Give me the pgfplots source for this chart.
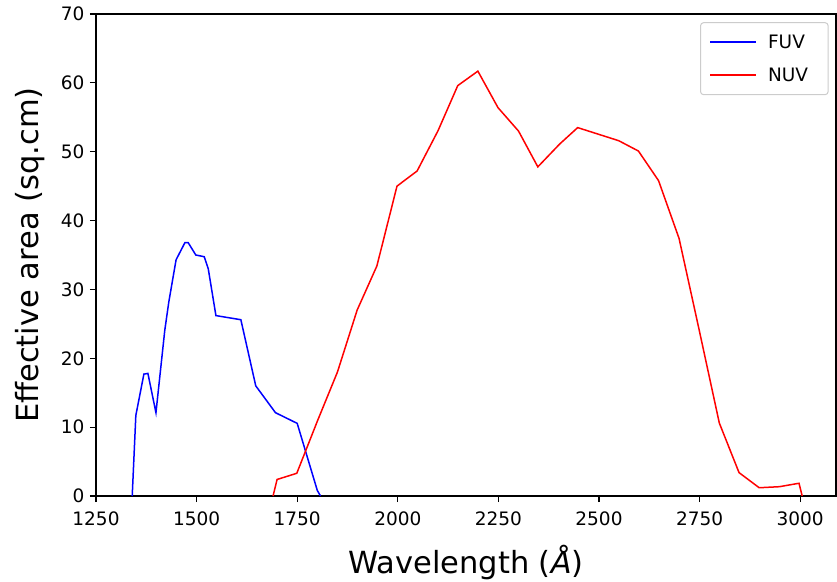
\documentclass[border=0pt]{standalone}
\usepackage{fontspec}
\setmainfont{DejaVu Sans}
\usepackage{pgfplots}
\pgfplotsset{compat=1.18}
\begin{document}
\begin{tikzpicture}
\begin{axis}[
  at={(0,0)}, anchor=south west,
  scale only axis, width=740pt, height=482pt,
  xmin=1250, xmax=3089, ymin=0, ymax=70,
  xtick={1250,1500,1750,2000,2250,2500,2750,3000},
  ytick={0,10,20,30,40,50,60,70},
  /pgf/number format/assume math mode=true,
  /pgf/number format/1000 sep={},
  tick align=outside, major tick length=6pt,
  tick style={black, line width=1.1pt},
  axis line style={line width=1.1pt},
  xtick pos=bottom, ytick pos=left,
  ticklabel style={font=\fontsize{18.5}{20}\selectfont},
  xticklabel style={yshift=-6pt},
  yticklabel style={xshift=-2pt},
  xlabel={Wavelength (\textit{Å})},
  ylabel={Effective area (sq.cm)},
  label style={font=\fontsize{30.5}{34}\selectfont},
  xlabel style={yshift=-13pt},
  ylabel style={yshift=9pt},
  legend style={at={(0.990,0.983)}, anchor=north east, draw=black!20, rounded corners=3pt, line width=1pt,
    font=\fontsize{18.5}{22}\selectfont, row sep=14pt, inner xsep=9pt, inner ysep=10pt,
    nodes={inner xsep=11pt}},
  legend cell align=left,
  legend image code/.code={\draw[#1] (0pt,0pt) -- (46pt,0pt);},
]
\addplot[blue, line width=1.5pt] coordinates {
(1340,0) (1349,11.7) (1369,17.7) (1379,17.8) (1399,12.1) (1421,24.1) (1431,28.2)
(1449,34.3) (1471,36.8) (1479,36.8) (1498,35.0) (1519,34.75) (1529,33.0)
(1548,26.2) (1610,25.6) (1647,16.0) (1696,12.1) (1750,10.55) (1800,0.8) (1808,0)
};
\addlegendentry{FUV}
\addplot[red, line width=1.5pt] coordinates {
(1690,0) (1700,2.4) (1749,3.3) (1801,11.0) (1850,18.0) (1899,27.0) (1948,33.4)
(1998,45.0) (2048,47.2) (2100,53.05) (2149,59.6) (2199,61.7) (2249,56.4)
(2300,53.0) (2348,47.8) (2402,51.1) (2447,53.5) (2549,51.6) (2598,50.1)
(2648,45.8) (2699,37.4) (2749,24.1) (2799,10.6) (2848,3.4) (2898,1.2)
(2948,1.35) (2997,1.85) (3005,0)
};
\addlegendentry{NUV}
\end{axis}
\pgfresetboundingbox
\path[use as bounding box] (-96pt,-85pt) rectangle (741pt,496pt);
\end{tikzpicture}
\end{document}
